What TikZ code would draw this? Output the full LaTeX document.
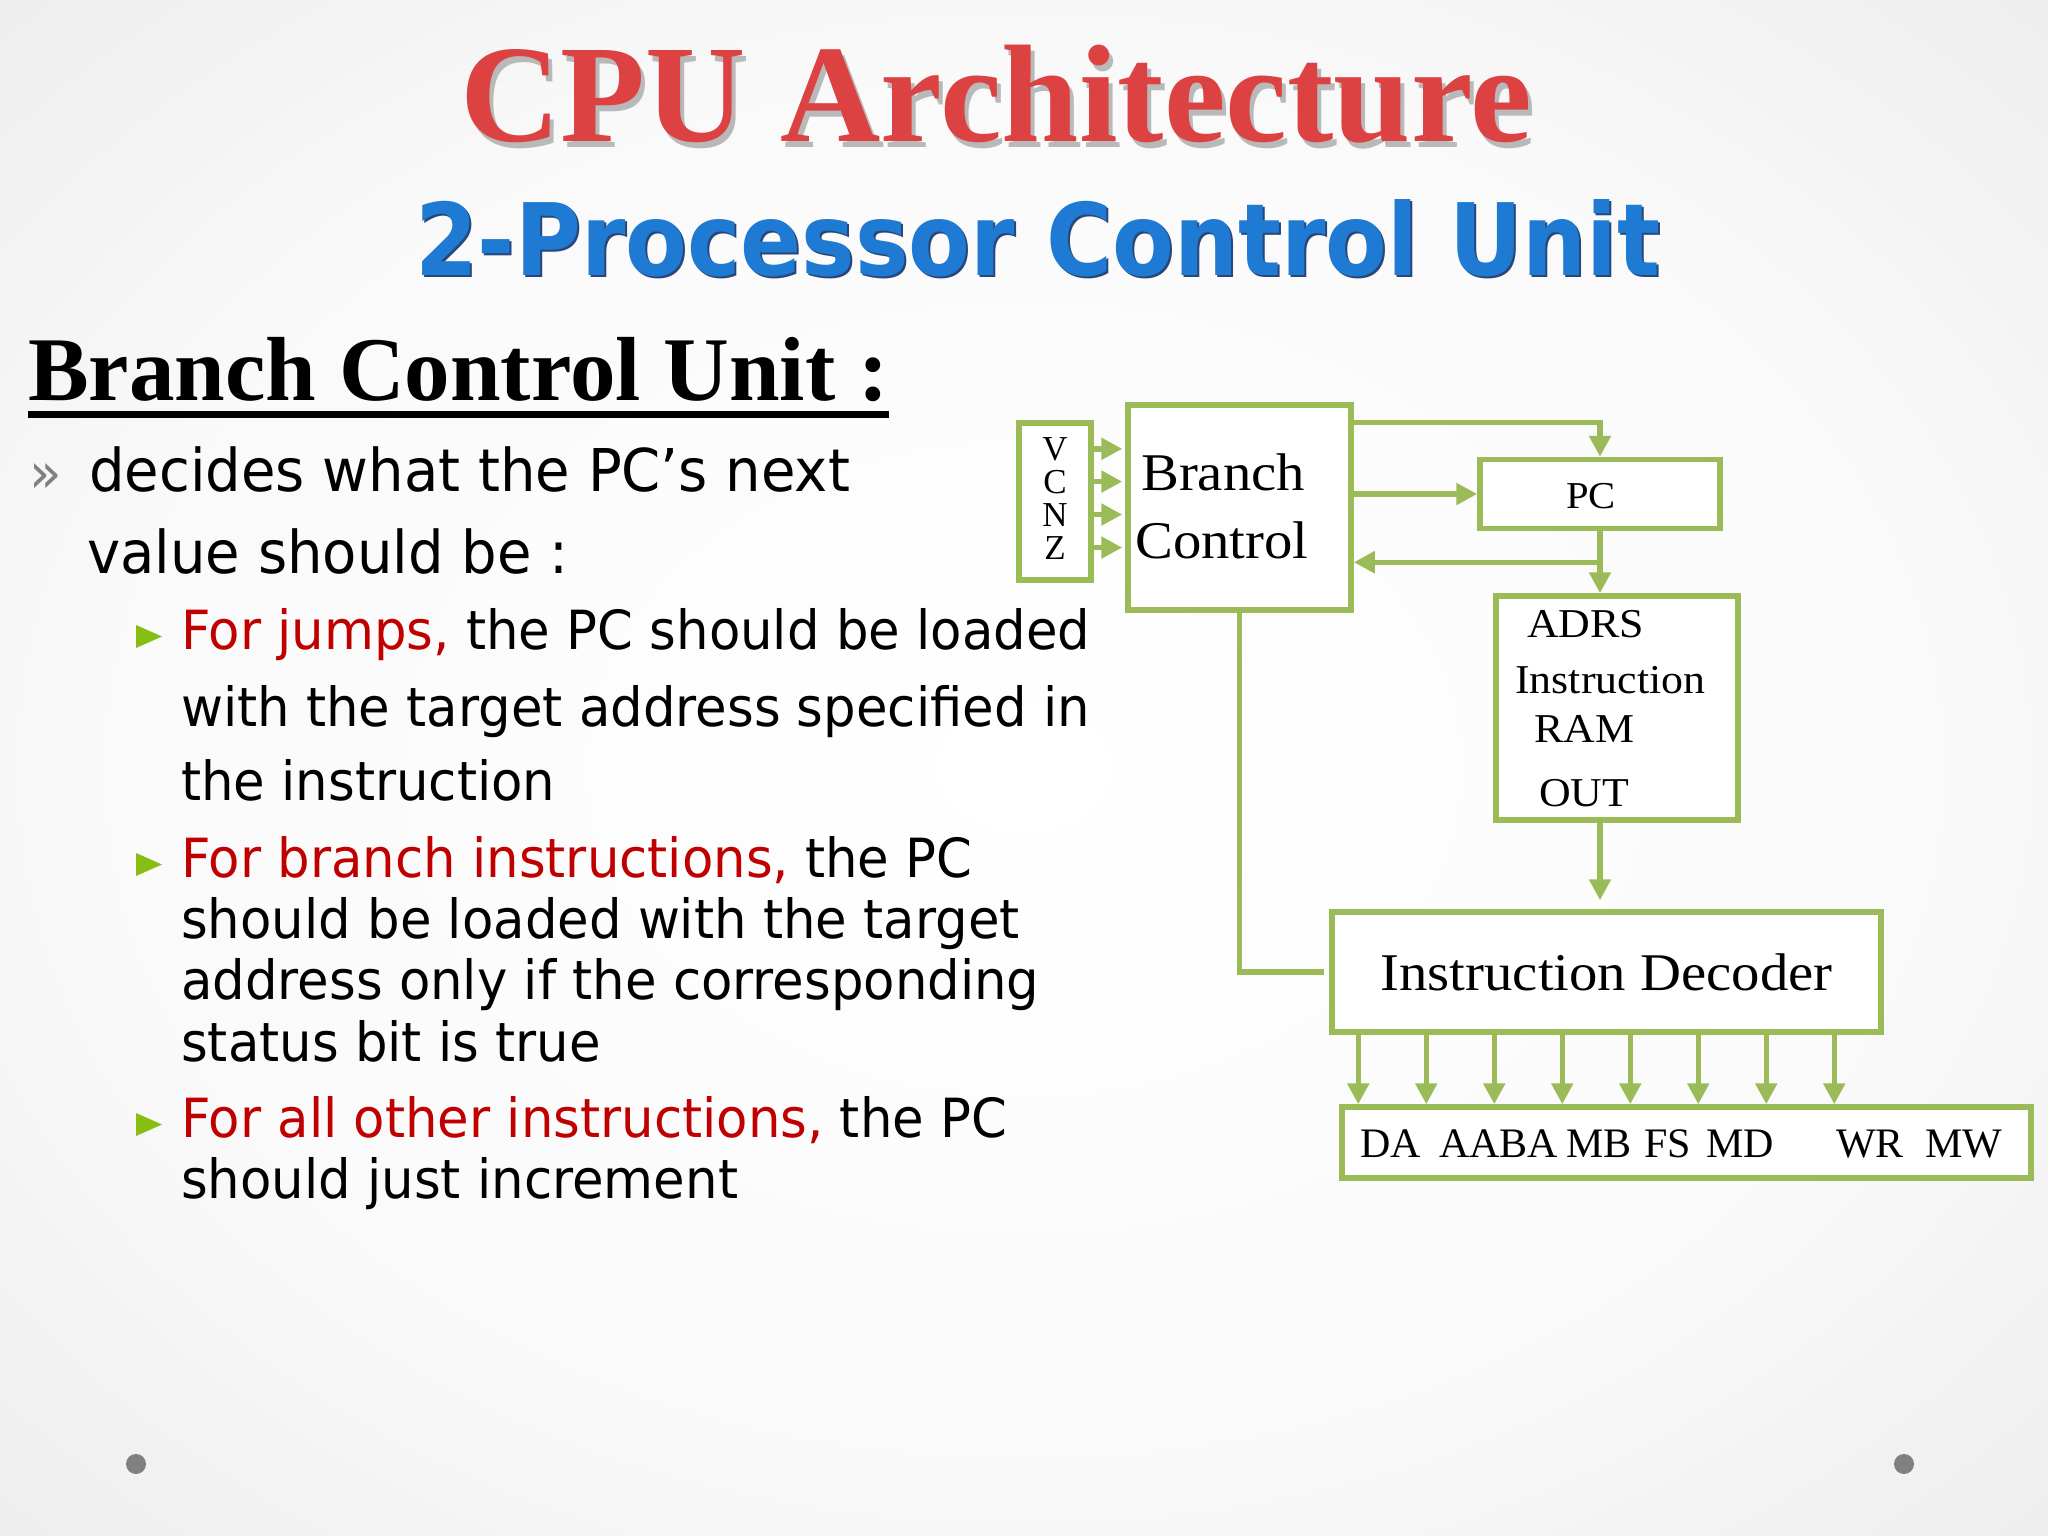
\documentclass[tikz,border=0pt]{standalone}
\usepackage{fontspec}
\usepackage{xcolor}
\usepackage{tikz}
\usetikzlibrary{arrows.meta, calc}
\newfontfamily\slidesans[FakeStretch=0.95]{DejaVu Sans}
\newfontfamily\subfont[FakeStretch=0.9]{DejaVu Sans}
\newfontfamily\slideserif{Liberation Serif}
\newfontfamily\boxfont[FakeStretch=1.07]{Liberation Serif}
\definecolor{slidegreen}{RGB}{155, 187, 89}
\definecolor{bulletgreen}{RGB}{134, 190, 20}
\definecolor{slidered}{RGB}{192, 0, 0}
\definecolor{titlered}{RGB}{220, 66, 66}
\definecolor{titleshade}{RGB}{185, 185, 185}
\definecolor{subblue}{RGB}{30, 122, 210}
\definecolor{subshade}{RGB}{40, 70, 120}
\definecolor{dotgray}{RGB}{128, 128, 128}
\pgfdeclareradialshading{slidebg}{\pgfpoint{0bp}{0bp}}{color(0bp)=(white); color(22bp)=(white!98!black); color(50bp)=(black!12); color(72bp)=(black!19)}

\begin{document}
\begin{tikzpicture}[
  x=1pt, y=-1pt,
  block/.style={rectangle, draw=slidegreen, fill=white, line width=5.5pt, inner sep=0pt},
  lbl/.style={inner sep=0pt, anchor=base west},
  boxtxt/.style={lbl, font=\boxfont\fontsize{53}{60}\selectfont},
  ramtxt/.style={lbl, font=\boxfont\fontsize{41}{46}\selectfont},
  sigtxt/.style={lbl, font=\slideserif\fontsize{42}{46}\selectfont},
  toptxt/.style={lbl, font=\slidesans\fontsize{59}{70}\selectfont},
  subtxt/.style={lbl, font=\slidesans\fontsize{54}{64}\selectfont},
  arrow/.style={-{Triangle[length=21pt, width=21pt]}, line width=5.5pt, draw=slidegreen},
  wire/.style={line width=5.5pt, draw=slidegreen},
]
  % slide background
  \shade[shading=slidebg] (0,0) rectangle (2048,1536);
  \useasboundingbox (0,0) rectangle (2048,1536);

  % Titles
  \node[lbl, anchor=base, text=titleshade, font=\slideserif\bfseries\fontsize{139}{150}\selectfont] (titleback) at (1000,147) {CPU Architecture};
  \node[lbl, anchor=base, text=titlered, font=\slideserif\bfseries\fontsize{139}{150}\selectfont] (title) at (996,142) {CPU Architecture};
  \node[lbl, anchor=base, text=subshade, font=\subfont\bfseries\fontsize{100}{110}\selectfont] (subback) at (1040,277) {2-Processor Control Unit};
  \node[lbl, anchor=base, text=subblue, font=\subfont\bfseries\fontsize{100}{110}\selectfont] (subtitle) at (1038,275) {2-Processor Control Unit};

  % Heading
  \node[lbl, font=\slideserif\bfseries\fontsize{91}{100}\selectfont] (bcu) at (28,400) {Branch Control Unit :};
  \draw[line width=7pt] ([yshift=-14pt]bcu.base west) -- ([yshift=-14pt]bcu.base east);

  % Bullet text
  \node[lbl, text=dotgray, font=\slidesans\fontsize{56}{60}\selectfont] (chev) at (29,492) {»};
  \node[toptxt] (d1) at (89,491) {decides what the PC’s next};
  \node[toptxt] (d2) at (87,573) {value should be :};

  \node[subtxt] (j1) at (181,649) {\textcolor{slidered}{For jumps,} the PC should be loaded};
  \node[subtxt] (j2) at (181,726) {with the target address specified in};
  \node[subtxt] (j3) at (181,800) {the instruction};
  \node[subtxt] (r1) at (181,877) {\textcolor{slidered}{For branch instructions,} the PC};
  \node[subtxt] (r2) at (181,938) {should be loaded with the target};
  \node[subtxt] (r3) at (181,999) {address only if the corresponding};
  \node[subtxt] (r4) at (181,1061) {status bit is true};
  \node[subtxt] (o1) at (181,1137) {\textcolor{slidered}{For all other instructions,} the PC};
  \node[subtxt] (o2) at (181,1198) {should just increment};
  \foreach \n in {j1,r1,o1}
    \fill[bulletgreen] ([xshift=-45pt,yshift=1pt]\n.base west) -- ++(26,-11.5) -- ++(-26,-11.5) -- cycle;

  % Status flags
  \node[block, minimum width=72pt, minimum height=157pt] (flags) at (1055,501.5) {};
  \foreach \f [count=\k] in {V,C,N,Z}
    \node[lbl, anchor=base, font=\slideserif\fontsize{35}{38}\selectfont] (f\f) at (1055,427+33*\k) {\f};

  % Branch control
  \node[block, minimum width=223pt, minimum height=205pt] (branch) at (1239.5,507.5) {};
  \node[boxtxt] (brline1) at (1141,490) {Branch};
  \node[boxtxt] (brline2) at (1135,558) {Control};

  % PC
  \node[block, minimum width=240pt, minimum height=69pt] (pc) at (1600,494) {};
  \node[lbl, anchor=base, font=\boxfont\fontsize{38}{40}\selectfont] (pcname) at (1591,508) {PC};

  % Instruction RAM
  \node[block, minimum width=242pt, minimum height=224pt] (ram) at (1617,708) {};
  \node[ramtxt] (adrs) at (1527,637) {ADRS};
  \node[ramtxt] (ramname) at (1515,693) {Instruction};
  \node[ramtxt] (ramkind) at (1534,742) {RAM};
  \node[ramtxt] (ramout) at (1539,806) {OUT};

  % Instruction decoder
  \node[block, minimum width=549pt, minimum height=120pt, font=\boxfont\fontsize{53}{60}\selectfont] (decoder) at (1606.5,972) {Instruction Decoder};

  % Control word
  \node[block, minimum width=689pt, minimum height=71pt] (outputs) at (1686.5,1142.5) {};
  \foreach \sig/\px in {DA/1362, AABA/1441, MB/1568, FS/1646, MD/1708, WR/1838, MW/1927}
    \node[sigtxt] (s\sig) at (\px-2,1157) {\sig};

  % Arrows
  \foreach \f in {V,C,N,Z}
    \draw[arrow, shorten >=3pt] (flags.east |- f\f) -- (branch.west |- f\f);
  \draw[arrow] ([yshift=-20pt]branch.north east) -| (pc.north);
  \draw[arrow] (branch.east |- pc.west) -- (pc.west);
  \draw[arrow] (pc.south) -- (pc.south |- ram.north);
  \coordinate (tap) at ($(pc.south)!0.5!(pc.south |- ram.north)$);
  \draw[arrow] (tap) -- (branch.east |- tap);
  \draw[arrow, shorten >=9pt] (pc.south |- ram.south) -- (pc.south |- decoder.north);
  \draw[wire] (branch.south) |- ([xshift=-5pt]decoder.west);
  \foreach \k in {0,...,7} {
    \coordinate (out\k) at ([xshift=29pt+\k*68pt]decoder.south west);
    \draw[arrow] (out\k) -- (out\k |- outputs.north);
  }

  % slide dots
  \fill[dotgray] (136,1464) circle[radius=10pt];
  \fill[dotgray] (1904,1464) circle[radius=10pt];
\end{tikzpicture}
\end{document}
